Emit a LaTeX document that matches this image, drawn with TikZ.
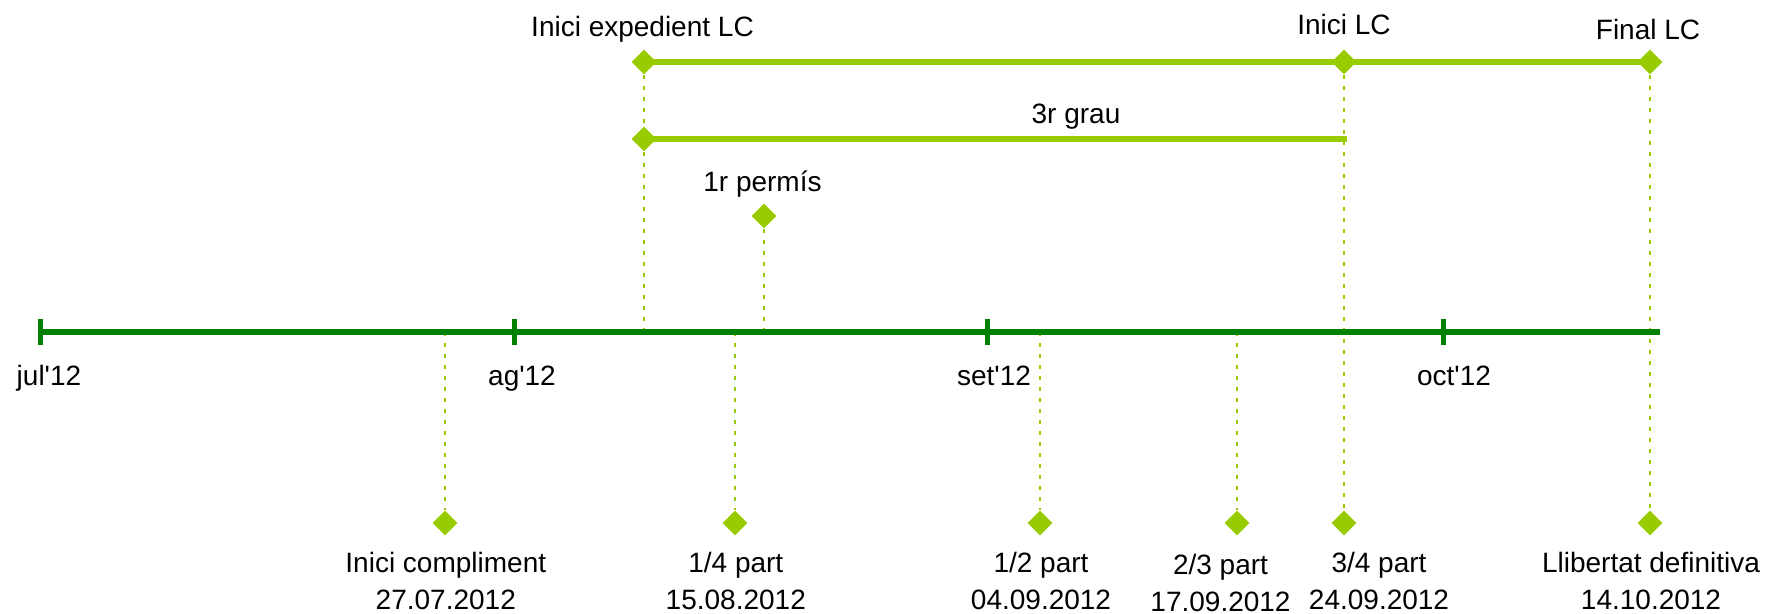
\documentclass[tikz,border=0pt]{standalone}
\usepackage{fontspec}
\setmainfont{Liberation Sans}[Ligatures=TeXOff]
\usetikzlibrary{shapes}
\definecolor{verdclar}{HTML}{99CC00}
\definecolor{verdfosc}{HTML}{008000}
\tikzset{
	fita/.style = {diamond, fill=verdclar, inner sep=0pt,
		minimum width=12.5pt, minimum height=12.5pt},% fita, diamant verd
	etiq/.style = {inner sep=0pt, anchor=base, align=center,
		font=\fontsize{14}{18.75}\selectfont},% text negre
	barra/.style = {draw=verdclar, line width=3pt},% periode
	guia/.style = {draw=verdclar, line width=1pt,
		dash pattern=on 2.2pt off 3.3pt},% linia de referencia
	eix/.style = {draw=verdfosc, line width=3pt},% eix del temps
	marca_mes/.style = {rectangle, fill=verdfosc, inner sep=0pt,
		minimum width=2.5pt, minimum height=13pt}% marca de mes
}

\begin{document}
\begin{tikzpicture}[x=0.5pt, y=-0.5pt]
	\useasboundingbox (0,0) rectangle (1766,614);
	% fites de dalt
	\node [fita] (f_exp) at (644,62) {};
	\node [fita] (f_ilc) at (1344,62) {};
	\node [fita] (f_flc) at (1650,62) {};
	\node [fita] (f_grau) at (644,139) {};
	\coordinate (grau_fi) at (1347,139);
	\node [fita] (f_perm) at (764,216) {};
	% eix
	\coordinate (eix_o) at (40,332);
	\coordinate (eix_f) at (1660,332);
	% fites de baix
	\node [fita] (b_comp) at (445,523) {};
	\node [fita] (b_q1) at (735,523) {};
	\node [fita] (b_mig) at (1040,523) {};
	\node [fita] (b_t2) at (1237,523) {};
	\node [fita] (b_q3) at (1344,523) {};
	\node [fita] (b_lib) at (1650,523) {};
	% linies de referencia
	\draw [guia] (f_exp) -- (f_grau);
	\draw [guia] (f_grau) -- (f_grau |- eix_o);
	\draw [guia] (f_perm) -- (f_perm |- eix_o);
	\draw [guia] (f_ilc) -- (b_q3);
	\draw [guia] (f_flc) -- (b_lib);
	\foreach \f in {b_comp, b_q1, b_mig, b_t2}
		\draw [guia] (\f |- eix_o) -- (\f);
	% periodes
	\draw [barra] (f_exp.center) -- (f_ilc.center) -- (f_flc.center);
	\draw [barra] (f_grau.center) -- (grau_fi);
	% eix amb els mesos
	\draw [eix] (eix_o) -- (eix_f);
	\foreach \x/\nom in {40/m_jul, 514/m_ag, 987/m_set, 1443/m_oct}
		\node [marca_mes] (\nom) at (\x,332) {};
	\node [etiq] (t_jul) at (49,386) {jul'12};
	\node [etiq] (t_ag) at (522,386) {ag'12};
	\node [etiq] (t_set) at (994,386) {set'12};
	\node [etiq] (t_oct) at (1454,386) {oct'12};
	% textos de dalt
	\node [etiq] (t_exp) at (642.5,36.7) {Inici expedient LC};
	\node [etiq] (t_ilc) at (1344,35) {Inici LC};
	\node [etiq] (t_flc) at (1648,39.3) {Final LC};
	\node [etiq] (t_grau) at (1076,123.3) {3r grau};
	\node [etiq] (t_perm) at (762.5,191.7) {1r permís};
	% textos de baix
	\node [etiq] (e_comp) at (445.8,609.5) {Inici compliment\\27.07.2012};
	\node [etiq] (e_q1) at (735.8,609.5) {1/4 part\\15.08.2012};
	\node [etiq] (e_mig) at (1041,609.5) {1/2 part\\04.09.2012};
	\node [etiq] (e_t2) at (1220.5,611.5) {2/3 part\\17.09.2012};
	\node [etiq] (e_q3) at (1379,609.5) {3/4 part\\24.09.2012};
	\node [etiq] (e_lib) at (1651,609.5) {Llibertat definitiva\\14.10.2012};
\end{tikzpicture}
\end{document}
